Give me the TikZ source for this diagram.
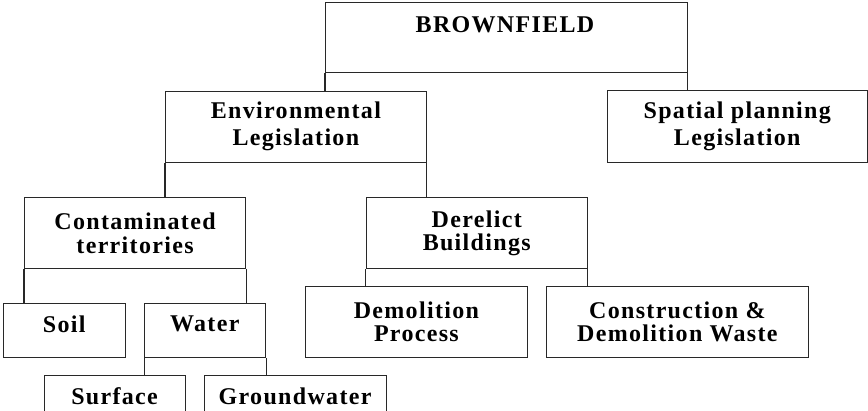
\documentclass[tikz,border=0pt]{standalone}
\usepackage{fontspec}
\setmainfont{Liberation Serif}[LetterSpace=5.5]
\usetikzlibrary{calc}
\definecolor{linec}{RGB}{40,40,40}
\tikzset{
  box/.style={draw=linec, line width=1.1pt, rectangle, inner sep=0pt, anchor=north west, align=center,
    font=\bfseries\fontsize{24}{23.3}\selectfont},
  boxtop/.style={box, font=\bfseries\fontsize{24}{26.7}\selectfont},
  lbl/.style={inner sep=0pt, font=\bfseries\fontsize{24}{26}\selectfont},
  conn/.style={draw=linec, line width=1.1pt}
}
\begin{document}
\begin{tikzpicture}[x=1pt,y=1pt]
\useasboundingbox (0,0) rectangle (868,-410);
\clip (0,0) rectangle (868,-410);
% boxes
\node[box, minimum width=361.7pt, minimum height=70pt] (bf) at (325,-1.7) {};
\node[lbl] (bft) at (505,-25) {BROWNFIELD};
\node[boxtop, minimum width=260pt, minimum height=71.7pt] (spl) at (606.7,-90) {Spatial planning\\Legislation};
\node[boxtop, minimum width=260.7pt, minimum height=71.2pt] (env) at (165,-90.5) {Environmental\\Legislation};
\node[box, minimum width=221pt, minimum height=71.3pt] (con) at (24,-197) {Contaminated\\territories};
\node[box, minimum width=221pt, minimum height=71.6pt] (der) at (365.7,-196.7) {Derelict\\Buildings};
\node[box, minimum width=121.7pt, minimum height=54pt] (soil) at (3.3,-303.3) {};
\node[lbl] (soilt) at (64.2,-324) {Soil};
\node[box, minimum width=121pt, minimum height=54pt] (wat) at (144.3,-303.3) {};
\node[lbl] (watt) at (204.8,-324) {Water};
\node[box, minimum width=221.7pt, minimum height=71pt] (dem) at (305,-286) {Demolition\\Process};
\node[box, minimum width=261.7pt, minimum height=71.3pt] (cdw) at (546,-286) {Construction \&\\Demolition Waste};
\node[box, minimum width=140.7pt, minimum height=60pt] (sur) at (44.3,-375) {};
\node[lbl] (surt) at (114.6,-396) {Surface};
\node[box, minimum width=181.7pt, minimum height=60pt] (gw) at (204.3,-375) {};
\node[lbl] (gwt) at (295.1,-396) {Groundwater};
% connectors
\draw[conn] (bf.south west) -- (bf.south west |- env.north);
\draw[conn] (bf.south east) -- (bf.south east |- spl.north);
\draw[conn] (env.south west) -- (env.south west |- con.north);
\draw[conn] (env.south east) -- (env.south east |- der.north);
\draw[conn] (con.south west) -- (con.south west |- soil.north);
\draw[conn] (con.south east) -- (con.south east |- wat.north);
\draw[conn] (der.south west) -- (der.south west |- dem.north);
\draw[conn] (der.south east) -- (der.south east |- cdw.north);
\draw[conn] (wat.south west) -- (wat.south west |- sur.north);
\draw[conn] (wat.south east) -- (wat.south east |- gw.north);
\end{tikzpicture}
\end{document}
